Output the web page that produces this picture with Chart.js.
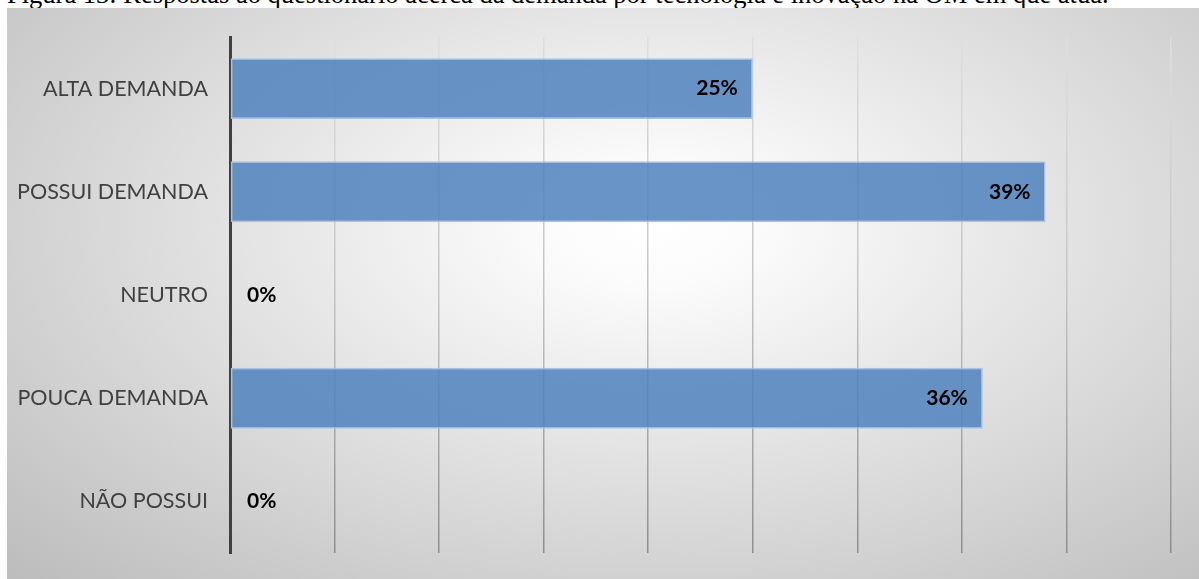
<!DOCTYPE html>
<html lang="pt-br">
<head>
    <meta charset="UTF-8">
    <title>Demanda por tecnologia e inovação</title>
    <script src="https://cdn.jsdelivr.net/npm/chart.js"></script>
    <style>
        body { margin: 0; background: #fff; width: 1199px; height: 579px; overflow: hidden; position: relative; }
        #legenda {
            position: absolute; left: 7px; top: -19px; white-space: nowrap;
            font-family: "Liberation Serif", "Times New Roman", serif; font-size: 26.5px; line-height: 1; color: #000;
        }
        #caixa {
            position: absolute; left: 7px; top: 8px; width: 1192px; height: 571px;
            background: radial-gradient(ellipse farthest-corner at 54% 38%, #ffffff 0%, #fbfbfb 12%, #bcbcbc 100%);
        }
        #grafico { display: block; }
    </style>
</head>
<body>
    <div id="legenda">Figura 13: Respostas ao questionário acerca da demanda por tecnologia e inovação na OM em que atua.</div>
    <div id="caixa">
        <canvas id="grafico" width="1192" height="571"></canvas>
    </div>

<script>
    // categorias (de cima para baixo) e percentuais
    const categorias = ['ALTA DEMANDA', 'POSSUI DEMANDA', 'NEUTRO', 'POUCA DEMANDA', 'NÃO POSSUI'];
    const percentuais = [25, 39, 0, 36, 0];
    const rotulos = ['25%', '39%', '0%', '36%', '0%'];

    // rótulos dos valores dentro da barra, alinhados no fim
    const rotulosPlugin = {
        id: 'rotulos',
        afterDatasetsDraw(chart) {
            const ctx = chart.ctx;
            const meta = chart.getDatasetMeta(0);
            ctx.save();
            ctx.font = 'bold 21px Lato, "Open Sans", sans-serif';
            ctx.fillStyle = '#000';
            ctx.textBaseline = 'middle';
            meta.data.forEach(function (barra, i) {
                if (percentuais[i] === 0) {
                    ctx.textAlign = 'left';
                    ctx.fillText(rotulos[i], barra.base + 17, barra.y);
                } else {
                    ctx.textAlign = 'right';
                    ctx.fillText(rotulos[i], barra.x - 15, barra.y);
                }
            });
            ctx.restore();
        }
    };

    function corGrade(context) {
        const area = context.chart.chartArea;
        if (!area) return '#d0d0d0';
        const g = context.chart.ctx.createLinearGradient(0, area.top, 0, area.bottom);
        g.addColorStop(0, '#dedede');
        g.addColorStop(0.5, '#c4c4c4');
        g.addColorStop(1, '#8e8e8e');
        return g;
    }

    const config = {
        type: 'bar',
        data: {
            labels: categorias,
            datasets: [{
                data: percentuais,
                backgroundColor: 'rgba(79, 129, 189, 0.85)',
                borderColor: '#a9c3e4',
                borderWidth: 1.5,
                borderSkipped: false,
                barPercentage: 0.59,
                categoryPercentage: 1
            }]
        },
        plugins: [rotulosPlugin],
        options: {
            indexAxis: 'y',
            responsive: false,
            animation: false,
            layout: { autoPadding: false, padding: { top: 29, right: 28, bottom: 26, left: 0 } },
            plugins: {
                legend: { display: false },
                tooltip: { enabled: false }
            },
            scales: {
                x: {
                    min: 0,
                    max: 45,
                    afterFit(scale) { scale.height = 0; },
                    ticks: { stepSize: 5, display: false },
                    grid: { color: corGrade, lineWidth: 1.5, drawTicks: false },
                    border: { display: false }
                },
                y: {
                    // largura fixa e sem folga extra em cima/embaixo
                    afterFit(scale) {
                        scale.width = 223;
                        scale.paddingTop = 0;
                        scale.paddingBottom = 0;
                    },
                    grid: { display: false, drawTicks: false },
                    border: { color: '#404040', width: 3 },
                    ticks: {
                        color: '#404040',
                        padding: 22,
                        font: { family: 'Lato, "Open Sans", sans-serif', size: 21.5 }
                    }
                }
            }
        }
    };

    new Chart(document.getElementById('grafico'), config);
</script>
</body>
</html>
